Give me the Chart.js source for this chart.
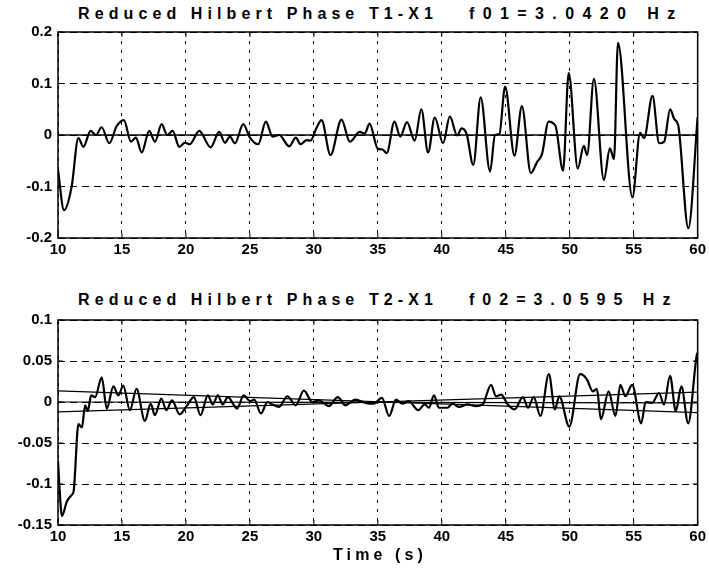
<!DOCTYPE html>
<html>
<head>
<meta charset="utf-8">
<script src="https://cdn.jsdelivr.net/npm/chart.js@4.4.1/dist/chart.umd.min.js"></script>
<style>
body { margin: 0; background: #fff; }
#wrap { position: relative; width: 709px; height: 570px; font-family: "Liberation Sans", Arial, sans-serif; }
.ttl { position: absolute; font-weight: bold; font-size: 16px; white-space: pre; color: #000; }
.izq { letter-spacing: 5.1px; }
.der { letter-spacing: 8.4px; }
.box { position: absolute; left: 0; }
</style>
</head>
<body>
<div id="wrap">
  <div class="ttl izq" style="left:78px; top:5px">Reduced Hilbert Phase T1-X1</div>
  <div class="ttl der" style="left:469px; top:5px">f01=3.0420 Hz</div>
  <div class="box" style="top:0"><canvas id="graficoT1" width="709" height="265"></canvas></div>
  <div class="ttl izq" style="left:78px; top:291px">Reduced Hilbert Phase T2-X1</div>
  <div class="ttl der" style="left:469px; top:291px; letter-spacing:8px">f02=3.0595 Hz</div>
  <div class="box" style="top:280px"><canvas id="graficoT2" width="709" height="290"></canvas></div>
  <div class="ttl" style="left:333px; top:546px; letter-spacing:4.1px">Time (s)</div>
</div>
<script>
// tiempo (s) y fase reducida T1-X1
const tiempoT1 = [10.0, 10.47, 11.07, 11.59, 11.98, 12.55, 12.97, 13.41, 14.01, 14.58, 15.15, 15.70, 16.09, 16.54, 17.13, 17.58, 18.10, 18.54, 18.96, 19.48, 19.92, 20.31, 21.04, 21.93, 22.60, 23.05, 23.44, 23.83, 24.48, 25.00, 25.65, 26.25, 26.77, 27.29, 28.07, 28.59, 28.96, 29.43, 29.74, 30.21, 30.60, 31.30, 32.16, 32.81, 33.59, 33.98, 34.35, 35.0, 35.34, 35.7, 36.3, 36.75, 37.28, 37.88, 38.4, 38.93, 39.45, 40.1, 40.63, 41.2, 41.55, 41.94, 42.46, 43.04, 43.77, 44.16, 44.5, 44.95, 45.68, 46.26, 46.96, 47.44, 47.83, 48.35, 48.88, 49.48, 49.92, 50.63, 51.1, 51.36, 51.89, 52.67, 53.14, 53.46, 53.77, 54.9, 55.5, 55.81, 56.47, 56.99, 57.38, 57.85, 58.17, 58.48, 59.27, 60.0];
const faseT1 = [-0.068, -0.146, -0.10, -0.006, -0.023, 0.008, 0.0, 0.015, -0.016, 0.017, 0.029, -0.013, -0.005, -0.034, 0.008, -0.013, 0.021, 0.0, 0.008, -0.023, -0.015, -0.018, 0.008, -0.024, 0.006, -0.015, -0.003, -0.016, 0.021, -0.005, -0.018, 0.026, -0.003, 0.0, -0.022, -0.005, -0.018, -0.010, -0.011, 0.014, 0.029, -0.039, 0.030, -0.013, 0.006, 0.003, 0.022, -0.027, -0.028, -0.035, 0.026, -0.003, 0.025, -0.011, 0.05, -0.034, 0.034, -0.016, 0.036, -0.001, 0.013, 0.002, -0.058, 0.073, -0.071, 0.0, 0.002, 0.094, -0.040, 0.056, -0.074, -0.053, -0.037, 0.026, 0.018, -0.069, 0.120, -0.065, -0.021, -0.039, 0.109, -0.087, -0.026, -0.047, 0.179, -0.121, 0.004, -0.006, 0.076, -0.016, -0.013, 0.050, 0.031, 0.019, -0.181, 0.035];

// tiempo (s) y fase reducida T2-X1
const tiempoT2 = [10.0, 10.1, 10.31, 10.7, 11.09, 11.22, 11.6, 11.87, 12.12, 12.33, 12.59, 12.9, 13.42, 13.81, 14.33, 14.72, 15.1, 15.62, 16.14, 16.79, 17.25, 17.57, 18.08, 18.47, 18.91, 19.51, 20.1, 20.62, 21.14, 21.71, 22.1, 22.49, 22.88, 23.27, 24.0, 24.51, 25.03, 25.34, 25.86, 26.38, 26.76, 27.28, 27.93, 28.58, 29.22, 29.87, 30.39, 31.17, 31.87, 32.46, 33.24, 34.02, 34.67, 35.32, 35.89, 36.42, 36.89, 37.42, 38.15, 38.68, 38.99, 39.39, 39.78, 40.44, 40.83, 41.36, 42.01, 42.67, 43.19, 43.85, 44.24, 44.64, 45.16, 45.69, 46.34, 46.74, 47.18, 47.71, 48.37, 48.84, 49.18, 49.97, 50.81, 51.33, 51.81, 52.12, 52.44, 53.04, 53.57, 53.96, 54.35, 54.88, 55.59, 55.93, 56.45, 56.98, 57.37, 57.84, 58.29, 58.73, 59.26, 59.94, 60.0];
const faseT2 = [-0.072, -0.100, -0.139, -0.121, -0.113, -0.109, -0.027, -0.031, -0.004, -0.011, 0.008, 0.006, 0.030, -0.008, 0.019, 0.008, 0.020, -0.010, 0.016, -0.023, -0.002, -0.016, 0.004, -0.010, 0.002, -0.015, -0.004, 0.006, -0.016, 0.008, -0.003, 0.008, -0.003, 0.006, -0.008, 0.008, 0.001, 0.003, -0.014, 0.0, -0.003, -0.006, 0.007, -0.004, 0.014, 0.0, 0.002, -0.005, 0.006, -0.004, 0.003, -0.001, -0.002, 0.005, -0.017, 0.003, -0.002, 0.001, -0.010, -0.003, -0.007, 0.008, -0.007, -0.007, -0.002, -0.006, -0.003, -0.005, -0.003, 0.021, 0.007, 0.009, -0.003, -0.009, 0.006, -0.007, 0.006, -0.017, 0.034, -0.009, 0.007, -0.030, 0.034, 0.028, 0.013, 0.016, -0.021, 0.013, -0.017, 0.021, 0.007, 0.021, -0.026, 0.0, -0.001, 0.011, -0.003, 0.032, -0.011, 0.019, -0.026, 0.058, 0.060];

// rectas de referencia
const tiempoRecta = [10, 60];
const rectaCero = [0, 0];
const rectaSup = [0.0135, -0.013];
const rectaMed = [0.0, -0.001];
const rectaInf = [-0.012, 0.012];

const ticksX = { min: 10, max: 60, paso: 5 };
const ticksY1 = { min: -0.2, max: 0.2, paso: 0.1 };
const ticksY2 = { min: -0.15, max: 0.1, paso: 0.05 };

const fuente = { family: 'Liberation Sans', size: 15, weight: 'bold' };

const puntos = (xs, ys) => xs.map((x, i) => ({ x: x, y: ys[i] }));

// marco negro y marcas hacia dentro, estilo matlab
const marco = {
    id: 'marco',
    afterDraw(chart) {
        const { ctx, chartArea: a, scales } = chart;
        ctx.save();
        ctx.strokeStyle = '#000';
        ctx.lineWidth = 1.5;
        ctx.strokeRect(a.left, a.top, a.right - a.left, a.bottom - a.top);
        ctx.lineWidth = 1;
        ctx.beginPath();
        scales.x.ticks.forEach(t => {
            const p = scales.x.getPixelForValue(t.value);
            ctx.moveTo(p, a.bottom); ctx.lineTo(p, a.bottom - 5);
            ctx.moveTo(p, a.top); ctx.lineTo(p, a.top + 5);
        });
        scales.y.ticks.forEach(t => {
            const p = scales.y.getPixelForValue(t.value);
            ctx.moveTo(a.left, p); ctx.lineTo(a.left + 5, p);
            ctx.moveTo(a.right, p); ctx.lineTo(a.right - 5, p);
        });
        ctx.stroke();
        ctx.restore();
    }
};

function linea(data, ancho) {
    return {
        data: data,
        borderColor: '#000',
        borderWidth: ancho,
        pointRadius: 0,
        cubicInterpolationMode: 'monotone',
        fill: false
    };
}

function opciones(ty, altoEje, arriba) {
    return {
        responsive: false,
        animation: false,
        layout: { padding: { left: 0, right: 10, top: arriba, bottom: 0 } },
        plugins: { legend: { display: false }, tooltip: { enabled: false } },
        scales: {
            x: {
                type: 'linear',
                min: ticksX.min,
                max: ticksX.max,
                afterFit: s => { s.height = altoEje; },
                ticks: { stepSize: ticksX.paso, color: '#000', font: fuente, padding: 3, maxRotation: 0 },
                grid: { color: '#000', lineWidth: 1, drawTicks: false },
                border: { display: false, dash: [3, 6] }
            },
            y: {
                min: ty.min,
                max: ty.max,
                afterFit: s => { s.width = 58; },
                ticks: {
                    stepSize: ty.paso, color: '#000', font: fuente, padding: 6,
                    callback: v => parseFloat(v.toFixed(2)).toString()
                },
                grid: { color: '#000', lineWidth: 1, drawTicks: false },
                border: { display: false, dash: [7, 5] }
            }
        }
    };
}

new Chart(document.getElementById('graficoT1'), {
    type: 'line',
    data: {
        datasets: [
            linea(puntos(tiempoRecta, rectaCero), 1.3),
            linea(puntos(tiempoT1, faseT1), 2.2)
        ]
    },
    options: opciones(ticksY1, 27, 32),
    plugins: [marco]
});

new Chart(document.getElementById('graficoT2'), {
    type: 'line',
    data: {
        datasets: [
            linea(puntos(tiempoRecta, rectaSup), 1.2),
            linea(puntos(tiempoRecta, rectaMed), 1.2),
            linea(puntos(tiempoRecta, rectaInf), 1.2),
            linea(puntos(tiempoT2, faseT2), 2.2)
        ]
    },
    options: opciones(ticksY2, 45, 40),
    plugins: [marco]
});
</script>
</body>
</html>
